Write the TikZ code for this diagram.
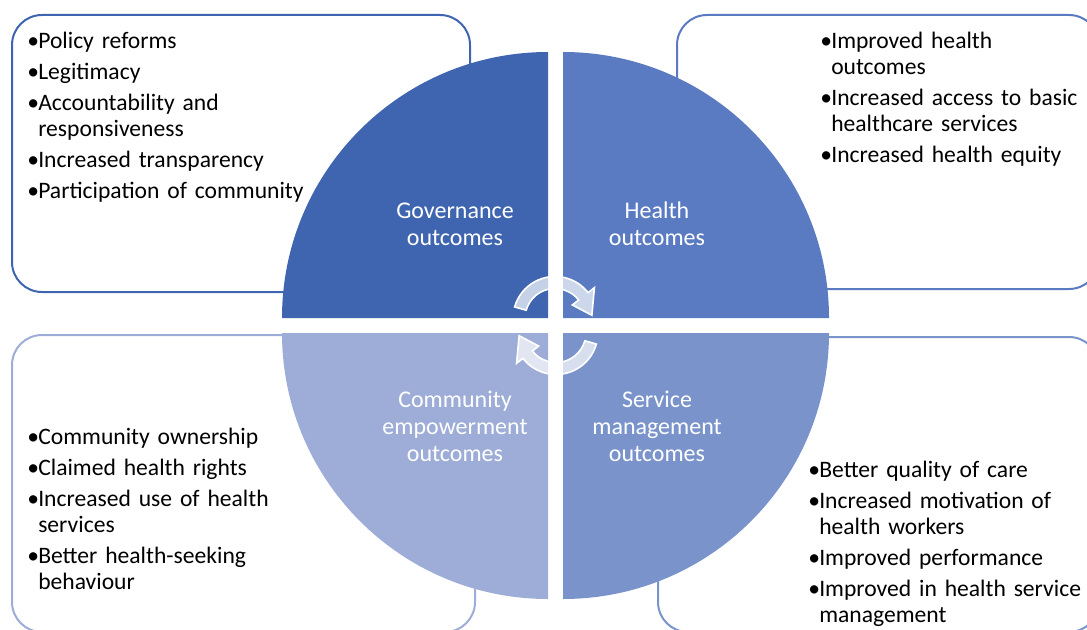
\documentclass[tikz,border=0pt]{standalone}
\usepackage{fontspec}
\setmainfont{Carlito}
\usepackage{xcolor}
\definecolor{GOVCOLOR}{HTML}{3F65B0}
\definecolor{HEALTHCOLOR}{HTML}{5A7BC2}
\definecolor{COMMCOLOR}{HTML}{9EADD7}
\definecolor{SERVCOLOR}{HTML}{7A94CB}
\usepackage{tikz}
\usetikzlibrary{positioning,calc}
\tikzset{
  box-style/.style = {
    draw=#1, line width=1.5pt, rounded corners=22.5pt
  },
  quad-style/.style = {
    fill=#1
  },
  label-style/.style = {
    text=white, align=center, inner sep=0pt,
    font=\fontsize{18}{20.25}\selectfont
  },
  list-style/.style = {
    anchor=base west, text width=#1, align=left, inner sep=0pt,
    font=\fontsize{17.7}{19.5}\selectfont\setlength\parskip{3.75pt}
  },
  list-style/.default = 300pt,
  cycle-style/.style = {
    fill=white, fill opacity=0.7, draw=white, line width=1.2pt
  }
}
\newcommand\quadRadius{266}
\newcommand\bulletItem[1]{\hangindent=8.25pt\hangafter=1\noindent\makebox[8.25pt][l]{\textbullet}#1\par}
\def\createQuadrant color:#1 apex:#2 from:#3 to:#4;{
  \fill[quad-style=#1] #2 -- ++(#3:\quadRadius) arc (#3:#4:\quadRadius) -- cycle;
}
\def\createCycle at:#1 turn:#2;{
  \path[cycle-style, shift={#1}, rotate=#2]
    (164:42) arc (164:38:42) -- (38:50) -- (5:37) -- (38:22) -- (38:30)
    arc (38:164:30) -- cycle;
}

\begin{document}
\begin{tikzpicture}[x=0.75pt, y=0.75pt]
  \useasboundingbox (0,0) rectangle (1087,629);
  \clip (0,0) rectangle (1087,629);

  % outer boxes
  \draw[box-style=GOVCOLOR] (12,337) rectangle (470,614);
  \draw[box-style=HEALTHCOLOR] (677,340) rectangle (1099,614);
  \draw[box-style=COMMCOLOR] (12,-3) rectangle (475,294);
  \draw[box-style=SERVCOLOR] (658,-3) rectangle (1099,292);

  % circle in four parts
  \createQuadrant color:GOVCOLOR apex:(548,311) from:180 to:90;
  \createQuadrant color:HEALTHCOLOR apex:(563,311) from:90 to:0;
  \createQuadrant color:COMMCOLOR apex:(548,296) from:270 to:180;
  \createQuadrant color:SERVCOLOR apex:(563,296) from:0 to:-90;

  \node[label-style] (gov) at (455,405) {Governance\\outcomes};
  \node[label-style] (health) at (657,405) {Health\\outcomes};
  \node[label-style] (comm) at (455,203) {Community\\empowerment\\outcomes};
  \node[label-style] (serv) at (657,203) {Service\\management\\outcomes};

  \createCycle at:{(555,310.5)} turn:0;
  \createCycle at:{(556,296.5)} turn:180;

  % lists
  \node[list-style] (govlist) at (27,580) {
    \bulletItem{Policy reforms}
    \bulletItem{Legitimacy}
    \bulletItem{Accountability and\newline responsiveness}
    \bulletItem{Increased transparency}
    \bulletItem{Participation of community}};
  \node[list-style] (healthlist) at (820,580) {
    \bulletItem{Improved health\newline outcomes}
    \bulletItem{Increased access to basic\newline healthcare services}
    \bulletItem{Increased health equity}};
  \node[list-style] (commlist) at (27,185) {
    \bulletItem{Community ownership}
    \bulletItem{Claimed health rights}
    \bulletItem{Increased use of health\newline services}
    \bulletItem{Better health-seeking\newline behaviour}};
  \node[list-style] (servlist) at (808,152) {
    \bulletItem{Better quality of care}
    \bulletItem{Increased motivation of\newline health workers}
    \bulletItem{Improved performance}
    \bulletItem{Improved in health service\newline management}};
\end{tikzpicture}
\end{document}
